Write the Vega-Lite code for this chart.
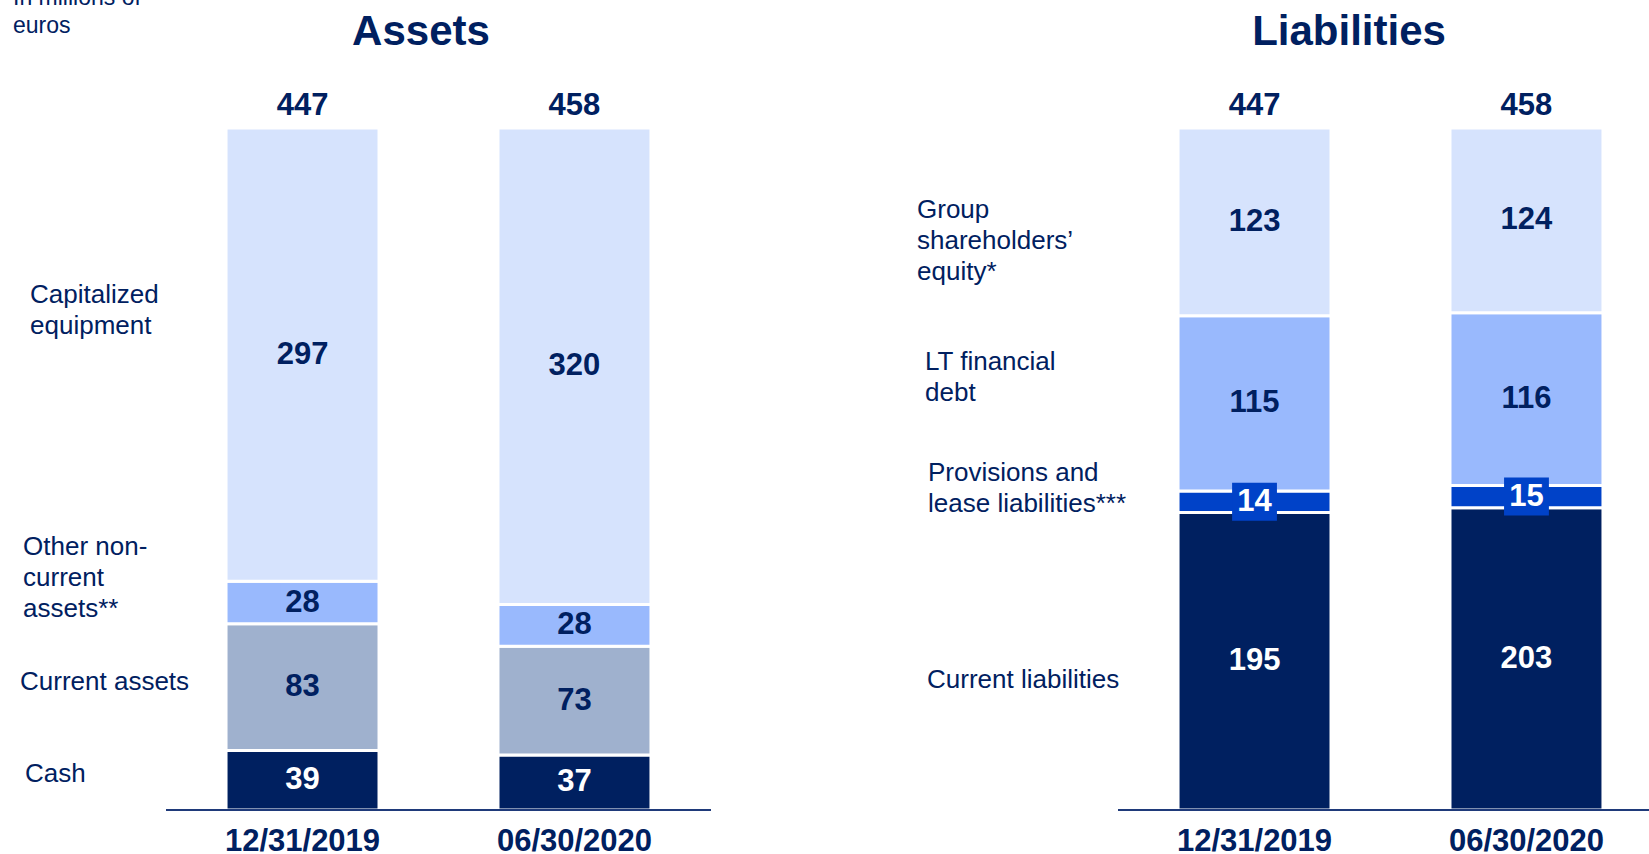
{
  "$schema": "https://vega.github.io/schema/vega-lite/v6.json",
  "autosize": {"type": "none"},
  "padding": {"left": 166, "top": 128, "right": 0, "bottom": 44},
  "width": 1483,
  "height": 682,
  "background": "white",
  "config": {"view": {"stroke": null}, "font": "Liberation Sans", "text": {"font": "Liberation Sans"}},
  "datasets": {
    "sheet": [
      {"panel": "Assets", "date": "12/31/2019", "item": "Cash", "rank": 1, "value": 39},
      {"panel": "Assets", "date": "12/31/2019", "item": "Current assets", "rank": 2, "value": 83},
      {"panel": "Assets", "date": "12/31/2019", "item": "Other non-\ncurrent\nassets**", "rank": 3, "value": 28},
      {"panel": "Assets", "date": "12/31/2019", "item": "Capitalized\nequipment", "rank": 4, "value": 297},
      {"panel": "Assets", "date": "06/30/2020", "item": "Cash", "rank": 1, "value": 37},
      {"panel": "Assets", "date": "06/30/2020", "item": "Current assets", "rank": 2, "value": 73},
      {"panel": "Assets", "date": "06/30/2020", "item": "Other non-\ncurrent\nassets**", "rank": 3, "value": 28},
      {"panel": "Assets", "date": "06/30/2020", "item": "Capitalized\nequipment", "rank": 4, "value": 320},
      {"panel": "Liabilities", "date": "12/31/2019", "item": "Current liabilities", "rank": 1, "value": 195},
      {"panel": "Liabilities", "date": "12/31/2019", "item": "Provisions and\nlease liabilities***", "rank": 2, "value": 14},
      {"panel": "Liabilities", "date": "12/31/2019", "item": "LT financial\ndebt", "rank": 3, "value": 115},
      {"panel": "Liabilities", "date": "12/31/2019", "item": "Group\nshareholders’\nequity*", "rank": 4, "value": 123},
      {"panel": "Liabilities", "date": "06/30/2020", "item": "Current liabilities", "rank": 1, "value": 203},
      {"panel": "Liabilities", "date": "06/30/2020", "item": "Provisions and\nlease liabilities***", "rank": 2, "value": 15},
      {"panel": "Liabilities", "date": "06/30/2020", "item": "LT financial\ndebt", "rank": 3, "value": 116},
      {"panel": "Liabilities", "date": "06/30/2020", "item": "Group\nshareholders’\nequity*", "rank": 4, "value": 124}
    ]
  },
  "layer": [
    {
      "data": {"name": "sheet"},
      "mark": {"type": "bar", "stroke": "white", "strokeWidth": 3},
      "encoding": {
        "x": {"field": "panel", "type": "nominal", "axis": null, "scale": {"domain": ["Assets", "Liabilities"], "paddingInner": 0.442227, "paddingOuter": 0, "round": false}},
        "xOffset": {"field": "date", "type": "nominal", "scale": {"domain": ["12/31/2019", "06/30/2020"], "paddingInner": 0.4375, "paddingOuter": 0.195, "align": 0.566, "round": false}},
        "y": {"field": "value", "type": "quantitative", "stack": "normalize", "axis": null, "scale": {"domain": [0, 1], "nice": false}},
        "color": {"field": "item", "type": "nominal", "legend": null,
          "scale": {
            "domain": ["Cash", "Current assets", "Other non-\ncurrent\nassets**", "Capitalized\nequipment", "Current liabilities", "Provisions and\nlease liabilities***", "LT financial\ndebt", "Group\nshareholders’\nequity*"],
            "range": ["#002060", "#9FB1CE", "#99B9FD", "#D6E3FD", "#002060", "#0042C8", "#99B9FD", "#D6E3FD"]}},
        "order": {"field": "rank", "type": "quantitative"}
      }
    },
    {
      "data": {"name": "sheet"},
      "mark": {"type": "point", "shape": "M-1.18,-1H1.18V1H-1.18Z", "filled": true, "size": 1444, "strokeWidth": 0},
      "encoding": {
        "x": {"field": "panel", "type": "nominal"},
        "xOffset": {"field": "date", "type": "nominal"},
        "y": {"field": "value", "type": "quantitative", "stack": "normalize", "bandPosition": 0.5},
        "color": {"field": "item", "type": "nominal", "legend": null},
        "order": {"field": "rank", "type": "quantitative"},
        "opacity": {"condition": {"test": "(datum.panel === 'Assets' && datum.rank === 3 && datum.date === '12/31/2019') || (datum.panel === 'Liabilities' && datum.rank === 2)", "value": 1}, "value": 0}
      }
    },
    {
      "data": {"name": "sheet"},
      "mark": {"type": "text", "fontSize": 31, "fontWeight": "bold", "baseline": "middle", "align": "center"},
      "encoding": {
        "x": {"field": "panel", "type": "nominal"},
        "xOffset": {"field": "date", "type": "nominal"},
        "y": {"field": "value", "type": "quantitative", "stack": "normalize", "bandPosition": 0.5},
        "detail": {"field": "item"},
        "order": {"field": "rank", "type": "quantitative"},
        "text": {"field": "value", "type": "quantitative"},
        "color": {"condition": {"test": "datum.rank === 1 || (datum.panel === 'Liabilities' && datum.rank === 2)", "value": "white"}, "value": "#002060"}
      }
    },
    {
      "data": {"name": "sheet"},
      "mark": {"type": "text", "fontSize": 31, "fontWeight": "bold", "baseline": "alphabetic", "align": "center", "dy": -13, "color": "#002060"},
      "encoding": {
        "x": {"field": "panel", "type": "nominal"},
        "xOffset": {"field": "date", "type": "nominal"},
        "y": {"datum": 1, "type": "quantitative"},
        "text": {"aggregate": "sum", "field": "value", "type": "quantitative"}
      }
    },
    {
      "data": {"name": "sheet"},
      "mark": {"type": "tick", "orient": "horizontal", "size": 545, "thickness": 2, "color": "#1F3A7A"},
      "encoding": {
        "x": {"field": "panel", "type": "nominal"},
        "xOffset": {"value": 272.5},
        "y": {"datum": 0, "type": "quantitative"},
        "opacity": {"condition": {"test": "datum.rank === 1 && datum.date === '12/31/2019'", "value": 1}, "value": 0}
      }
    },
    {
      "data": {"name": "sheet"},
      "mark": {"type": "text", "fontSize": 31, "fontWeight": "bold", "baseline": "alphabetic", "align": "center", "dy": 41, "color": "#002060"},
      "encoding": {
        "x": {"field": "panel", "type": "nominal"},
        "xOffset": {"field": "date", "type": "nominal"},
        "y": {"datum": 0, "type": "quantitative"},
        "text": {"condition": {"test": "datum.rank === 1", "field": "date"}, "value": ""}
      }
    },
    {
      "data": {"name": "sheet"},
      "mark": {"type": "text", "align": "left", "baseline": "middle", "fontSize": 26, "lineBreak": "\n", "lineHeight": 31, "color": "#002060", "dx": -272.5, "dy": -60},
      "encoding": {
        "x": {"field": "panel", "type": "nominal"},
        "xOffset": {"field": "date", "type": "nominal"},
        "y": {"field": "value", "type": "quantitative", "stack": "normalize", "bandPosition": 0.5},
        "detail": {"field": "item"},
        "order": {"field": "rank", "type": "quantitative"},
        "text": {"condition": {"test": "datum.panel === 'Assets' && datum.date === '12/31/2019' && datum.rank === 4", "field": "item"}, "value": ""}
      }
    },
    {
      "data": {"name": "sheet"},
      "mark": {"type": "text", "align": "left", "baseline": "middle", "fontSize": 26, "lineBreak": "\n", "lineHeight": 31, "color": "#002060", "dx": -279.5, "dy": -56},
      "encoding": {
        "x": {"field": "panel", "type": "nominal"},
        "xOffset": {"field": "date", "type": "nominal"},
        "y": {"field": "value", "type": "quantitative", "stack": "normalize", "bandPosition": 0.5},
        "detail": {"field": "item"},
        "order": {"field": "rank", "type": "quantitative"},
        "text": {"condition": {"test": "datum.panel === 'Assets' && datum.date === '12/31/2019' && datum.rank === 3", "field": "item"}, "value": ""}
      }
    },
    {
      "data": {"name": "sheet"},
      "mark": {"type": "text", "align": "left", "baseline": "middle", "fontSize": 26, "lineBreak": "\n", "lineHeight": 31, "color": "#002060", "dx": -282.5, "dy": -5},
      "encoding": {
        "x": {"field": "panel", "type": "nominal"},
        "xOffset": {"field": "date", "type": "nominal"},
        "y": {"field": "value", "type": "quantitative", "stack": "normalize", "bandPosition": 0.5},
        "detail": {"field": "item"},
        "order": {"field": "rank", "type": "quantitative"},
        "text": {"condition": {"test": "datum.panel === 'Assets' && datum.date === '12/31/2019' && datum.rank === 2", "field": "item"}, "value": ""}
      }
    },
    {
      "data": {"name": "sheet"},
      "mark": {"type": "text", "align": "left", "baseline": "middle", "fontSize": 26, "lineBreak": "\n", "lineHeight": 31, "color": "#002060", "dx": -277.5, "dy": -6},
      "encoding": {
        "x": {"field": "panel", "type": "nominal"},
        "xOffset": {"field": "date", "type": "nominal"},
        "y": {"field": "value", "type": "quantitative", "stack": "normalize", "bandPosition": 0.5},
        "detail": {"field": "item"},
        "order": {"field": "rank", "type": "quantitative"},
        "text": {"condition": {"test": "datum.panel === 'Assets' && datum.date === '12/31/2019' && datum.rank === 1", "field": "item"}, "value": ""}
      }
    },
    {
      "data": {"name": "sheet"},
      "mark": {"type": "text", "align": "left", "baseline": "middle", "fontSize": 26, "lineBreak": "\n", "lineHeight": 31, "color": "#002060", "dx": -337.5, "dy": -12},
      "encoding": {
        "x": {"field": "panel", "type": "nominal"},
        "xOffset": {"field": "date", "type": "nominal"},
        "y": {"field": "value", "type": "quantitative", "stack": "normalize", "bandPosition": 0.5},
        "detail": {"field": "item"},
        "order": {"field": "rank", "type": "quantitative"},
        "text": {"condition": {"test": "datum.panel === 'Liabilities' && datum.date === '12/31/2019' && datum.rank === 4", "field": "item"}, "value": ""}
      }
    },
    {
      "data": {"name": "sheet"},
      "mark": {"type": "text", "align": "left", "baseline": "middle", "fontSize": 26, "lineBreak": "\n", "lineHeight": 31, "color": "#002060", "dx": -329.5, "dy": -41},
      "encoding": {
        "x": {"field": "panel", "type": "nominal"},
        "xOffset": {"field": "date", "type": "nominal"},
        "y": {"field": "value", "type": "quantitative", "stack": "normalize", "bandPosition": 0.5},
        "detail": {"field": "item"},
        "order": {"field": "rank", "type": "quantitative"},
        "text": {"condition": {"test": "datum.panel === 'Liabilities' && datum.date === '12/31/2019' && datum.rank === 3", "field": "item"}, "value": ""}
      }
    },
    {
      "data": {"name": "sheet"},
      "mark": {"type": "text", "align": "left", "baseline": "middle", "fontSize": 26, "lineBreak": "\n", "lineHeight": 31, "color": "#002060", "dx": -326.5, "dy": -29},
      "encoding": {
        "x": {"field": "panel", "type": "nominal"},
        "xOffset": {"field": "date", "type": "nominal"},
        "y": {"field": "value", "type": "quantitative", "stack": "normalize", "bandPosition": 0.5},
        "detail": {"field": "item"},
        "order": {"field": "rank", "type": "quantitative"},
        "text": {"condition": {"test": "datum.panel === 'Liabilities' && datum.date === '12/31/2019' && datum.rank === 2", "field": "item"}, "value": ""}
      }
    },
    {
      "data": {"name": "sheet"},
      "mark": {"type": "text", "align": "left", "baseline": "middle", "fontSize": 26, "lineBreak": "\n", "lineHeight": 31, "color": "#002060", "dx": -327.5, "dy": 19},
      "encoding": {
        "x": {"field": "panel", "type": "nominal"},
        "xOffset": {"field": "date", "type": "nominal"},
        "y": {"field": "value", "type": "quantitative", "stack": "normalize", "bandPosition": 0.5},
        "detail": {"field": "item"},
        "order": {"field": "rank", "type": "quantitative"},
        "text": {"condition": {"test": "datum.panel === 'Liabilities' && datum.date === '12/31/2019' && datum.rank === 1", "field": "item"}, "value": ""}
      }
    },
    {
      "data": {"name": "sheet"},
      "mark": {"type": "text", "fontSize": 42, "fontWeight": "bold", "color": "#002060", "baseline": "alphabetic", "align": "center", "dx": -10.5, "dy": -83},
      "encoding": {
        "x": {"field": "panel", "type": "nominal"},
        "y": {"datum": 1, "type": "quantitative"},
        "text": {"condition": {"test": "datum.panel === 'Assets' && datum.date === '12/31/2019' && datum.rank === 1", "field": "panel"}, "value": ""}
      }
    },
    {
      "data": {"name": "sheet"},
      "mark": {"type": "text", "fontSize": 42, "fontWeight": "bold", "color": "#002060", "baseline": "alphabetic", "align": "center", "dx": -34.5, "dy": -83},
      "encoding": {
        "x": {"field": "panel", "type": "nominal"},
        "y": {"datum": 1, "type": "quantitative"},
        "text": {"condition": {"test": "datum.panel === 'Liabilities' && datum.date === '12/31/2019' && datum.rank === 1", "field": "panel"}, "value": ""}
      }
    },
    {
      "data": {"values": [{"note": "In millions of\neuros"}]},
      "mark": {"type": "text", "fontSize": 23, "color": "#002060", "baseline": "middle", "align": "left", "lineBreak": "\n", "lineHeight": 28, "dx": -418.5, "dy": -130},
      "encoding": {
        "x": {"datum": "Assets", "type": "nominal"},
        "y": {"datum": 1, "type": "quantitative"},
        "text": {"field": "note"}
      }
    }
  ]
}
